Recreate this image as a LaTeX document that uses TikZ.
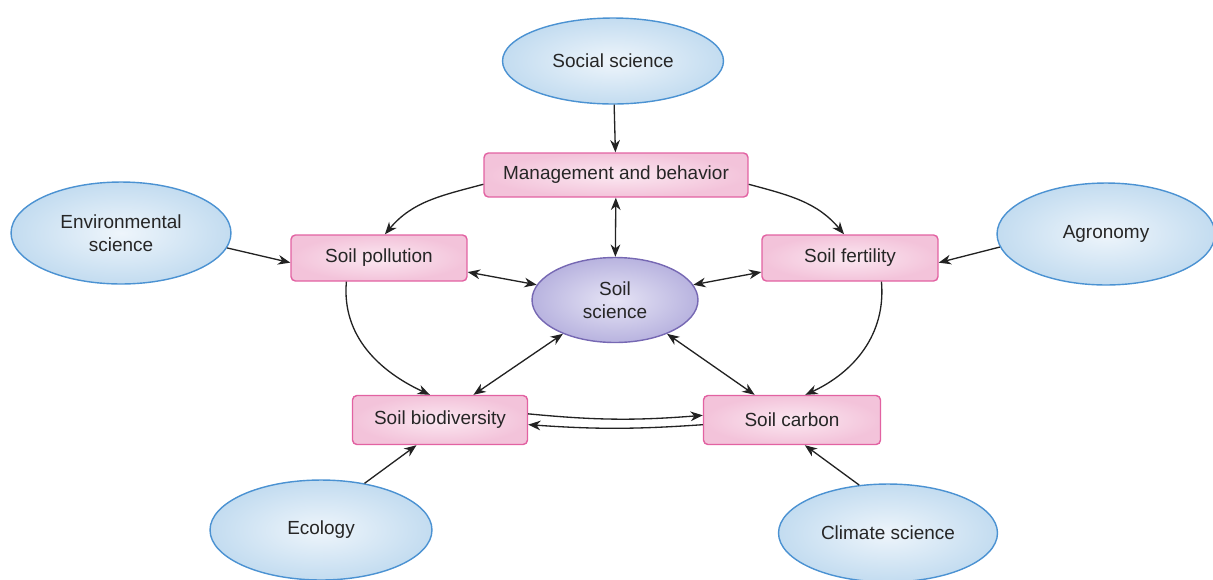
\documentclass[tikz,border=0pt]{standalone}
\usepackage{fontspec}
\setmainfont{Liberation Sans}
\usetikzlibrary{shapes.geometric, arrows.meta}
\definecolor{tpink}{HTML}{F3C3DA}
\definecolor{tpinkin}{HTML}{FBE8F1}
\definecolor{tpinkline}{HTML}{E262A2}
\definecolor{fblue}{HTML}{C3DCF0}
\definecolor{fbluein}{HTML}{EEF5FB}
\definecolor{fblueline}{HTML}{4B92D2}
\definecolor{clav}{HTML}{B8B3DF}
\definecolor{clavin}{HTML}{E6E4F5}
\definecolor{clavline}{HTML}{7668B3}
\definecolor{cline}{HTML}{222222}
\tikzstyle{topic} = [rectangle, rounded corners=2.5pt, draw=tpinkline, line width=0.8pt, inner color=tpinkin, outer color=tpink, text=black!85, text centered, inner sep=0pt]
\tikzstyle{field} = [ellipse, draw=fblueline, line width=0.8pt, inner color=fbluein, outer color=fblue, text=black!85, inner sep=0pt]
\tikzstyle{core} = [ellipse, draw=clavline, line width=0.8pt, inner color=clavin, outer color=clav, text=black!85, inner sep=0pt, minimum width=3.32cm, minimum height=1.7cm]
\tikzstyle{link} = [-{Stealth[length=7pt, width=5.5pt, inset=2.2pt]}, line width=0.75pt, draw=cline]
\tikzstyle{both} = [{Stealth[length=7pt, width=5.5pt, inset=2.2pt]}-{Stealth[length=7pt, width=5.5pt, inset=2.2pt]}, line width=0.75pt, draw=cline]

\begin{document}
\begin{tikzpicture}[x=0.02cm, y=-0.02cm, align=center, font=\fontsize{10.8}{12.8}\selectfont]
\useasboundingbox (0,0) rectangle (1213,579);
%Outer fields
\node (social) [field, minimum width=4.42cm, minimum height=1.72cm] at (613,61) {Social science};
\node (envsci) [field, minimum width=4.4cm, minimum height=2.04cm] at (121,233) {Environmental\\science};
\node (agro) [field, minimum width=4.36cm, minimum height=2.04cm] at (1106,234) {Agronomy};
\node (ecology) [field, minimum width=4.44cm, minimum height=2.0cm] at (321,530) {Ecology};
\node (climate) [field, minimum width=4.38cm, minimum height=1.96cm] at (888,533) {Climate science};
%Soil topics
\node (manage) [topic, minimum width=5.28cm, minimum height=0.88cm] at (616,175) {Management and behavior};
\node (pollution) [topic, minimum width=3.52cm, minimum height=0.92cm] at (379,258) {Soil pollution};
\node (fertility) [topic, minimum width=3.52cm, minimum height=0.92cm] at (850,258) {Soil fertility};
\node (biodiv) [topic, minimum width=3.5cm, minimum height=0.98cm] at (440,420) {Soil biodiversity};
\node (carbon) [topic, minimum width=3.54cm, minimum height=0.98cm] at (792,420) {Soil carbon};
\node (soilsci) [core] at (615,300) {Soil\\science};
%Links
\draw [link] (social) -- (manage);
\draw [both] (manage) -- (soilsci);
\draw [link] (manage.184) to[out=195, in=50] (pollution.76);
\draw [link] (manage.-4) to[out=-15, in=130] (fertility.104);
\draw [link] (envsci.-8) -- (pollution.183);
\draw [link] (agro.187) -- (fertility.-3);
\draw [both] (pollution.-9) -- (soilsci.169);
\draw [both] (fertility.189) -- (soilsci.11);
\draw [link] (pollution.216) to[out=-95, in=155] (biodiv.112);
\draw [link] (fertility.-37) to[out=-85, in=25] (carbon.62);
\draw [both] (biodiv.37) -- (soilsci.213);
\draw [both] (carbon.146) -- (soilsci.-33);
\draw [link] (biodiv.4) to[bend right=5] (carbon.177);
\draw [link] (carbon.183) to[bend left=4] (biodiv.-3);
\draw [link] (ecology.47) -- (biodiv.227);
\draw [link] (climate.121) -- (carbon.-63);
\end{tikzpicture}
\end{document}
